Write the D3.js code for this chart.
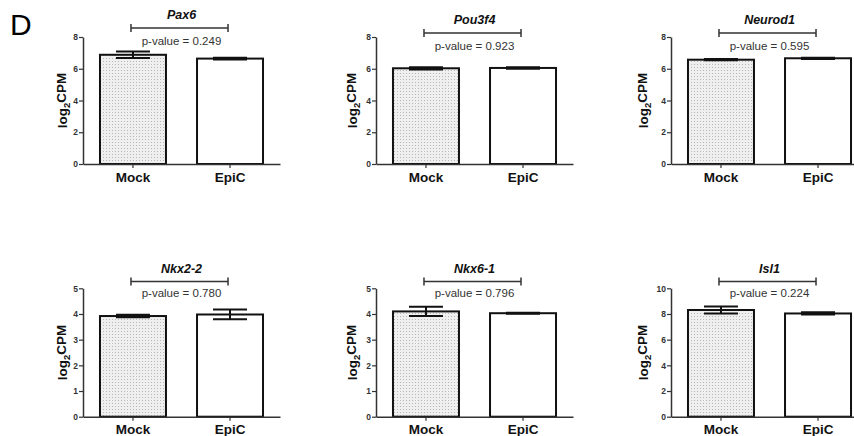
<!DOCTYPE html>
<html>
<head>
<meta charset="utf-8">
<script src="https://cdn.jsdelivr.net/npm/d3@7"></script>
<style>
  body { margin: 0; background: #fff; }
  svg { display: block; font-family: "Liberation Sans", Arial, sans-serif; }
</style>
</head>
<body>
<div id="chart"></div>
<script>
// values
const genes = ["Pax6", "Pou3f4", "Neurod1", "Nkx2-2", "Nkx6-1", "Isl1"];
const groups = ["Mock", "EpiC"];
const mockMean = [6.88, 6.03, 6.57, 3.92, 4.1, 8.31];
const mockErr = [0.2, 0.07, 0.04, 0.05, 0.18, 0.28];
const epicMean = [6.64, 6.05, 6.66, 3.98, 4.03, 8.04];
const epicErr = [0.05, 0.05, 0.04, 0.19, 0.02, 0.09];
const pValues = ["0.249", "0.923", "0.595", "0.780", "0.796", "0.224"];
const yMax = [8, 8, 8, 5, 5, 10];
const yStep = [2, 2, 2, 1, 1, 2];

let width = 854, height = 436;

// panel layout
const colX = [83, 376, 671];
const labelOff = [-21, -24, -28];
const rows = [
  { top: 37, bottom: 164, title: 22, bracket: 31, pval: 48 },
  { top: 288.3, bottom: 416.7, title: 273, bracket: 281.5, pval: 297 }
];
const bracketShift = [-3, 2, 2, 0, 0, 0];

let svg = d3.select("#chart").append("svg")
  .attr("width", width)
  .attr("height", height);

// dotted fill of the Mock bars
const pat = svg.append("defs").append("pattern")
  .attr("id", "dots")
  .attr("patternUnits", "userSpaceOnUse")
  .attr("width", 3).attr("height", 3);
pat.append("rect").attr("width", 3).attr("height", 3).attr("fill", "#efefef");
pat.append("rect").attr("x", 1).attr("y", 1).attr("width", 1).attr("height", 1).attr("fill", "#b8b8b8");

svg.append("text")
  .attr("x", 10).attr("y", 35)
  .style("font-size", "30px")
  .text("D");

genes.forEach(function (gene, i) {
  let col = i % 3, row = rows[Math.floor(i / 3)];
  let ax = colX[col];
  let g = svg.append("g");

  let x = d3.scaleBand().domain(groups)
    .range([ax, ax + 197])
    .paddingInner(0.32).paddingOuter(0.175);
  let y = d3.scaleLinear().domain([0, yMax[i]]).range([row.bottom, row.top]);

  let vals = [
    { grp: "Mock", mean: mockMean[i], err: mockErr[i] },
    { grp: "EpiC", mean: epicMean[i], err: epicErr[i] }
  ];

  g.selectAll("rect.bar")
    .data(vals)
    .enter()
    .append("rect")
    .attr("class", "bar")
    .attr("x", d => x(d.grp))
    .attr("y", d => y(d.mean))
    .attr("width", x.bandwidth())
    .attr("height", d => y(0) - y(d.mean))
    .attr("fill", d => d.grp === "Mock" ? "url(#dots)" : "#fff")
    .attr("stroke", "#111")
    .attr("stroke-width", 2);

  // error bars
  let eb = g.selectAll("g.err").data(vals).enter().append("g")
    .attr("stroke", "#111").attr("stroke-width", 2);
  let cx = d => x(d.grp) + x.bandwidth() / 2;
  eb.append("line")
    .attr("x1", cx).attr("x2", cx)
    .attr("y1", d => y(d.mean + d.err)).attr("y2", d => y(d.mean - d.err));
  [1, -1].forEach(function (s) {
    eb.append("line")
      .attr("x1", d => cx(d) - 17).attr("x2", d => cx(d) + 17)
      .attr("y1", d => y(d.mean + s * d.err)).attr("y2", d => y(d.mean + s * d.err));
  });

  // axes
  let ticks = d3.range(0, yMax[i] + yStep[i] / 2, yStep[i]);
  let yAxis = g.append("g")
    .attr("transform", "translate(" + ax + ",0)")
    .call(d3.axisLeft(y).tickValues(ticks).tickFormat(d3.format("d"))
      .tickSize(4).tickSizeOuter(0).tickPadding(1));
  yAxis.selectAll("text").style("font-size", "8.5px").style("font-weight", "bold").attr("fill", "#333");

  let xAxis = g.append("g")
    .attr("transform", "translate(0," + row.bottom + ")")
    .call(d3.axisBottom(x).tickSize(4).tickSizeOuter(0).tickPadding(4));
  xAxis.selectAll("text").style("font-size", "13.5px").style("font-weight", "bold").attr("fill", "#111");

  [yAxis, xAxis].forEach(a => {
    a.select(".domain").attr("stroke", "#333").attr("stroke-width", 1.5);
    a.selectAll(".tick line").attr("stroke", "#333").attr("stroke-width", 1.2);
  });

  // y label
  let ly = g.append("text")
    .attr("transform", "translate(" + (ax + labelOff[col]) + "," + ((row.top + row.bottom) / 2) + ") rotate(-90)")
    .attr("text-anchor", "middle")
    .attr("dy", "0.35em")
    .style("font-size", "13.5px")
    .style("font-weight", "bold")
    .attr("fill", "#111");
  ly.append("tspan").text("log");
  ly.append("tspan").attr("dy", "0.3em").style("font-size", "9.5px").text("2");
  ly.append("tspan").attr("dy", "-0.3em").text("CPM");

  // title, bracket, p-value
  let mid = (x("Mock") + x("EpiC") + x.bandwidth()) / 2;
  let by = row.bracket + bracketShift[i];
  let bx1 = x("Mock") + x.bandwidth() / 2 - 2, bx2 = x("EpiC") + x.bandwidth() / 2 - 2;
  g.append("text")
    .attr("x", mid).attr("y", row.title + bracketShift[i])
    .attr("text-anchor", "middle")
    .style("font-size", "12.5px")
    .style("font-weight", "bold")
    .style("font-style", "italic")
    .attr("fill", "#111")
    .text(gene);
  g.append("path")
    .attr("d", "M" + bx1 + "," + (by - 4) + "V" + (by + 4) + "M" + bx1 + "," + by + "H" + bx2 + "M" + bx2 + "," + (by - 4) + "V" + (by + 4))
    .attr("fill", "none")
    .attr("stroke", "#333")
    .attr("stroke-width", 1.5);
  g.append("text")
    .attr("x", mid).attr("y", row.pval + bracketShift[i])
    .attr("text-anchor", "middle")
    .style("font-size", "11.5px")
    .attr("fill", "#333")
    .text("p-value = " + pValues[i]);
});
</script>
</body>
</html>
